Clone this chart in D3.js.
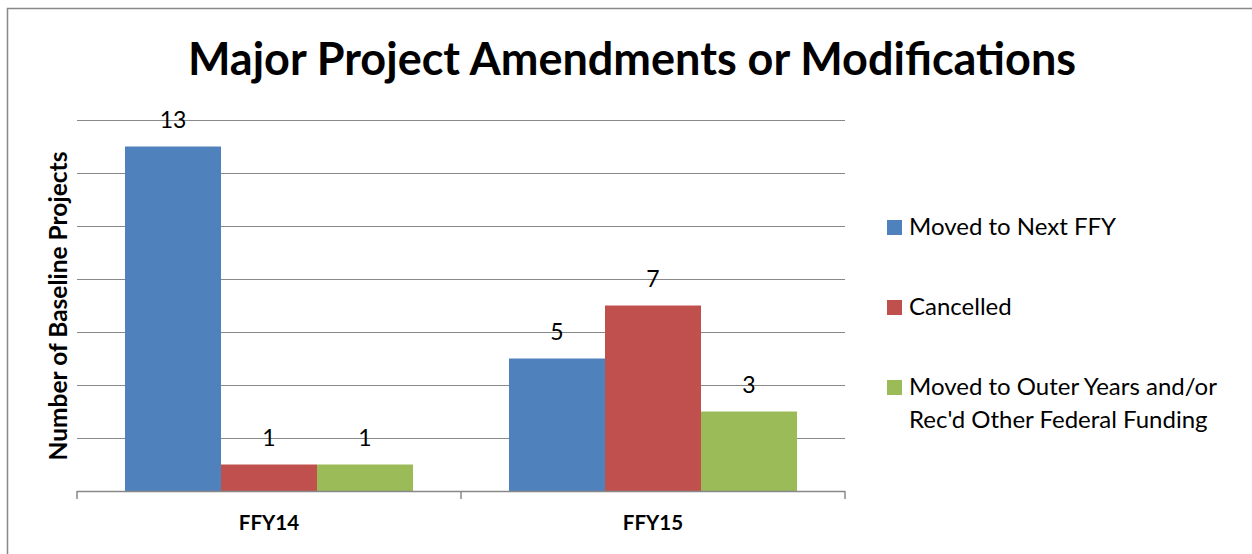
<!DOCTYPE html>
<html>
<head>
  <meta charset="UTF-8">
  <style>
body{
    margin: 0;
    background: #fff;
}
svg text{
    font-family: Lato, "Open Sans", sans-serif;
    fill: #000;
}
  </style>
</head>
<body>
<svg></svg>

<script src="https://d3js.org/d3.v7.min.js"></script>

<script>

let width = 1252, height = 554;

// chart data
let categories = ["FFY14", "FFY15"];
let seriesNames = ["Moved to Next FFY", "Cancelled", "Moved to Outer Years and/or Rec'd Other Federal Funding"];
let movedNext = [13, 5];
let cancelled = [1, 7];
let outerYears = [1, 3];
let seriesColors = ["#4F81BD", "#C0504D", "#9BBB59"];
let yTicks = [0, 2, 4, 6, 8, 10, 12, 14];

let seriesValues = [movedNext, cancelled, outerYears];

let svg = d3.select("svg")
    .attr("width", width)
    .attr("height", height)
    .attr("viewBox", "0 0 " + width + " " + height);

// outer chart border (runs off the right and bottom edge)
svg.append("rect")
    .attr("x", 7.5)
    .attr("y", 8.5)
    .attr("width", width)
    .attr("height", height)
    .attr("fill", "none")
    .attr("stroke", "#888")
    .attr("stroke-width", 1.5);

let plotLeft = 77, plotRight = 845, plotTop = 120, plotBottom = 491;

let x0 = d3.scaleBand()
    .domain(categories)
    .range([plotLeft, plotRight]);

let x1 = d3.scaleBand()
    .domain(d3.range(seriesNames.length))
    .range([x0.bandwidth() * 0.125, x0.bandwidth() * 0.875]);

let y = d3.scaleLinear()
    .domain([0, 14])
    .range([plotBottom, plotTop]);

// gridlines
svg.append("g")
    .selectAll("line")
    .data(yTicks.slice(1))
    .enter()
    .append("line")
    .attr("x1", plotLeft)
    .attr("x2", plotRight)
    .attr("y1", d => Math.round(y(d)) + 0.5)
    .attr("y2", d => Math.round(y(d)) + 0.5)
    .attr("stroke", "#888")
    .attr("stroke-width", 1.2);

// bars
let groups = svg.append("g")
    .selectAll("g")
    .data(categories)
    .enter()
    .append("g")
    .attr("transform", d => "translate(" + x0(d) + ",0)");

groups.selectAll("rect")
    .data((d, i) => seriesValues.map((s, j) => ({series: j, value: s[i]})))
    .enter()
    .append("rect")
    .attr("x", d => x1(d.series))
    .attr("width", x1.bandwidth())
    .attr("y", d => y(d.value))
    .attr("height", d => y(0) - y(d.value))
    .attr("fill", d => seriesColors[d.series]);

groups.selectAll("text")
    .data((d, i) => seriesValues.map((s, j) => ({series: j, value: s[i]})))
    .enter()
    .append("text")
    .attr("x", d => x1(d.series) + x1.bandwidth() / 2)
    .attr("y", d => y(d.value) - 19)
    .attr("text-anchor", "middle")
    .style("font-size", "23px")
    .text(d => d.value);

// x axis
let xAxis = svg.append("g");
xAxis.append("line")
    .attr("x1", plotLeft)
    .attr("x2", plotRight)
    .attr("y1", plotBottom + 0.5)
    .attr("y2", plotBottom + 0.5)
    .attr("stroke", "#888")
    .attr("stroke-width", 1.5);

let tickXs = categories.map(c => x0(c)).concat([plotRight]);
xAxis.selectAll(".tick")
    .data(tickXs)
    .enter()
    .append("line")
    .attr("class", "tick")
    .attr("x1", d => d)
    .attr("x2", d => d)
    .attr("y1", plotBottom)
    .attr("y2", plotBottom + 8)
    .attr("stroke", "#888")
    .attr("stroke-width", 1.5);

xAxis.selectAll("text")
    .data(categories)
    .enter()
    .append("text")
    .attr("x", d => x0(d) + x0.bandwidth() / 2)
    .attr("y", 530)
    .attr("text-anchor", "middle")
    .style("font-size", "20.5px")
    .style("font-weight", "bold")
    .text(d => d);

// y axis title
svg.append("text")
    .attr("transform", "translate(67,306) rotate(-90)")
    .attr("text-anchor", "middle")
    .style("font-size", "24.5px")
    .style("font-weight", "bold")
    .text("Number of Baseline Projects");

// chart title
svg.append("text")
    .attr("x", 632)
    .attr("y", 75)
    .attr("text-anchor", "middle")
    .style("font-size", "45px")
    .style("font-weight", "bold")
    .text("Major Project Amendments or Modifications");

// legend
let legendRows = [
    {lines: ["Moved to Next FFY"], y: 235},
    {lines: ["Cancelled"], y: 315},
    {lines: ["Moved to Outer Years and/or", "Rec'd Other Federal Funding"], y: 395}
];

let legend = svg.append("g")
    .selectAll("g")
    .data(legendRows)
    .enter()
    .append("g");

legend.append("rect")
    .attr("x", 887)
    .attr("y", d => d.y - 15)
    .attr("width", 15)
    .attr("height", 15)
    .attr("fill", (d, i) => seriesColors[i]);

legend.append("text")
    .attr("x", 909)
    .attr("y", d => d.y)
    .style("font-size", "24px")
    .selectAll("tspan")
    .data(d => d.lines)
    .enter()
    .append("tspan")
    .attr("x", 909)
    .attr("dy", (d, i) => i == 0 ? 0 : 33)
    .text(d => d);

</script>
</body>
</html>
